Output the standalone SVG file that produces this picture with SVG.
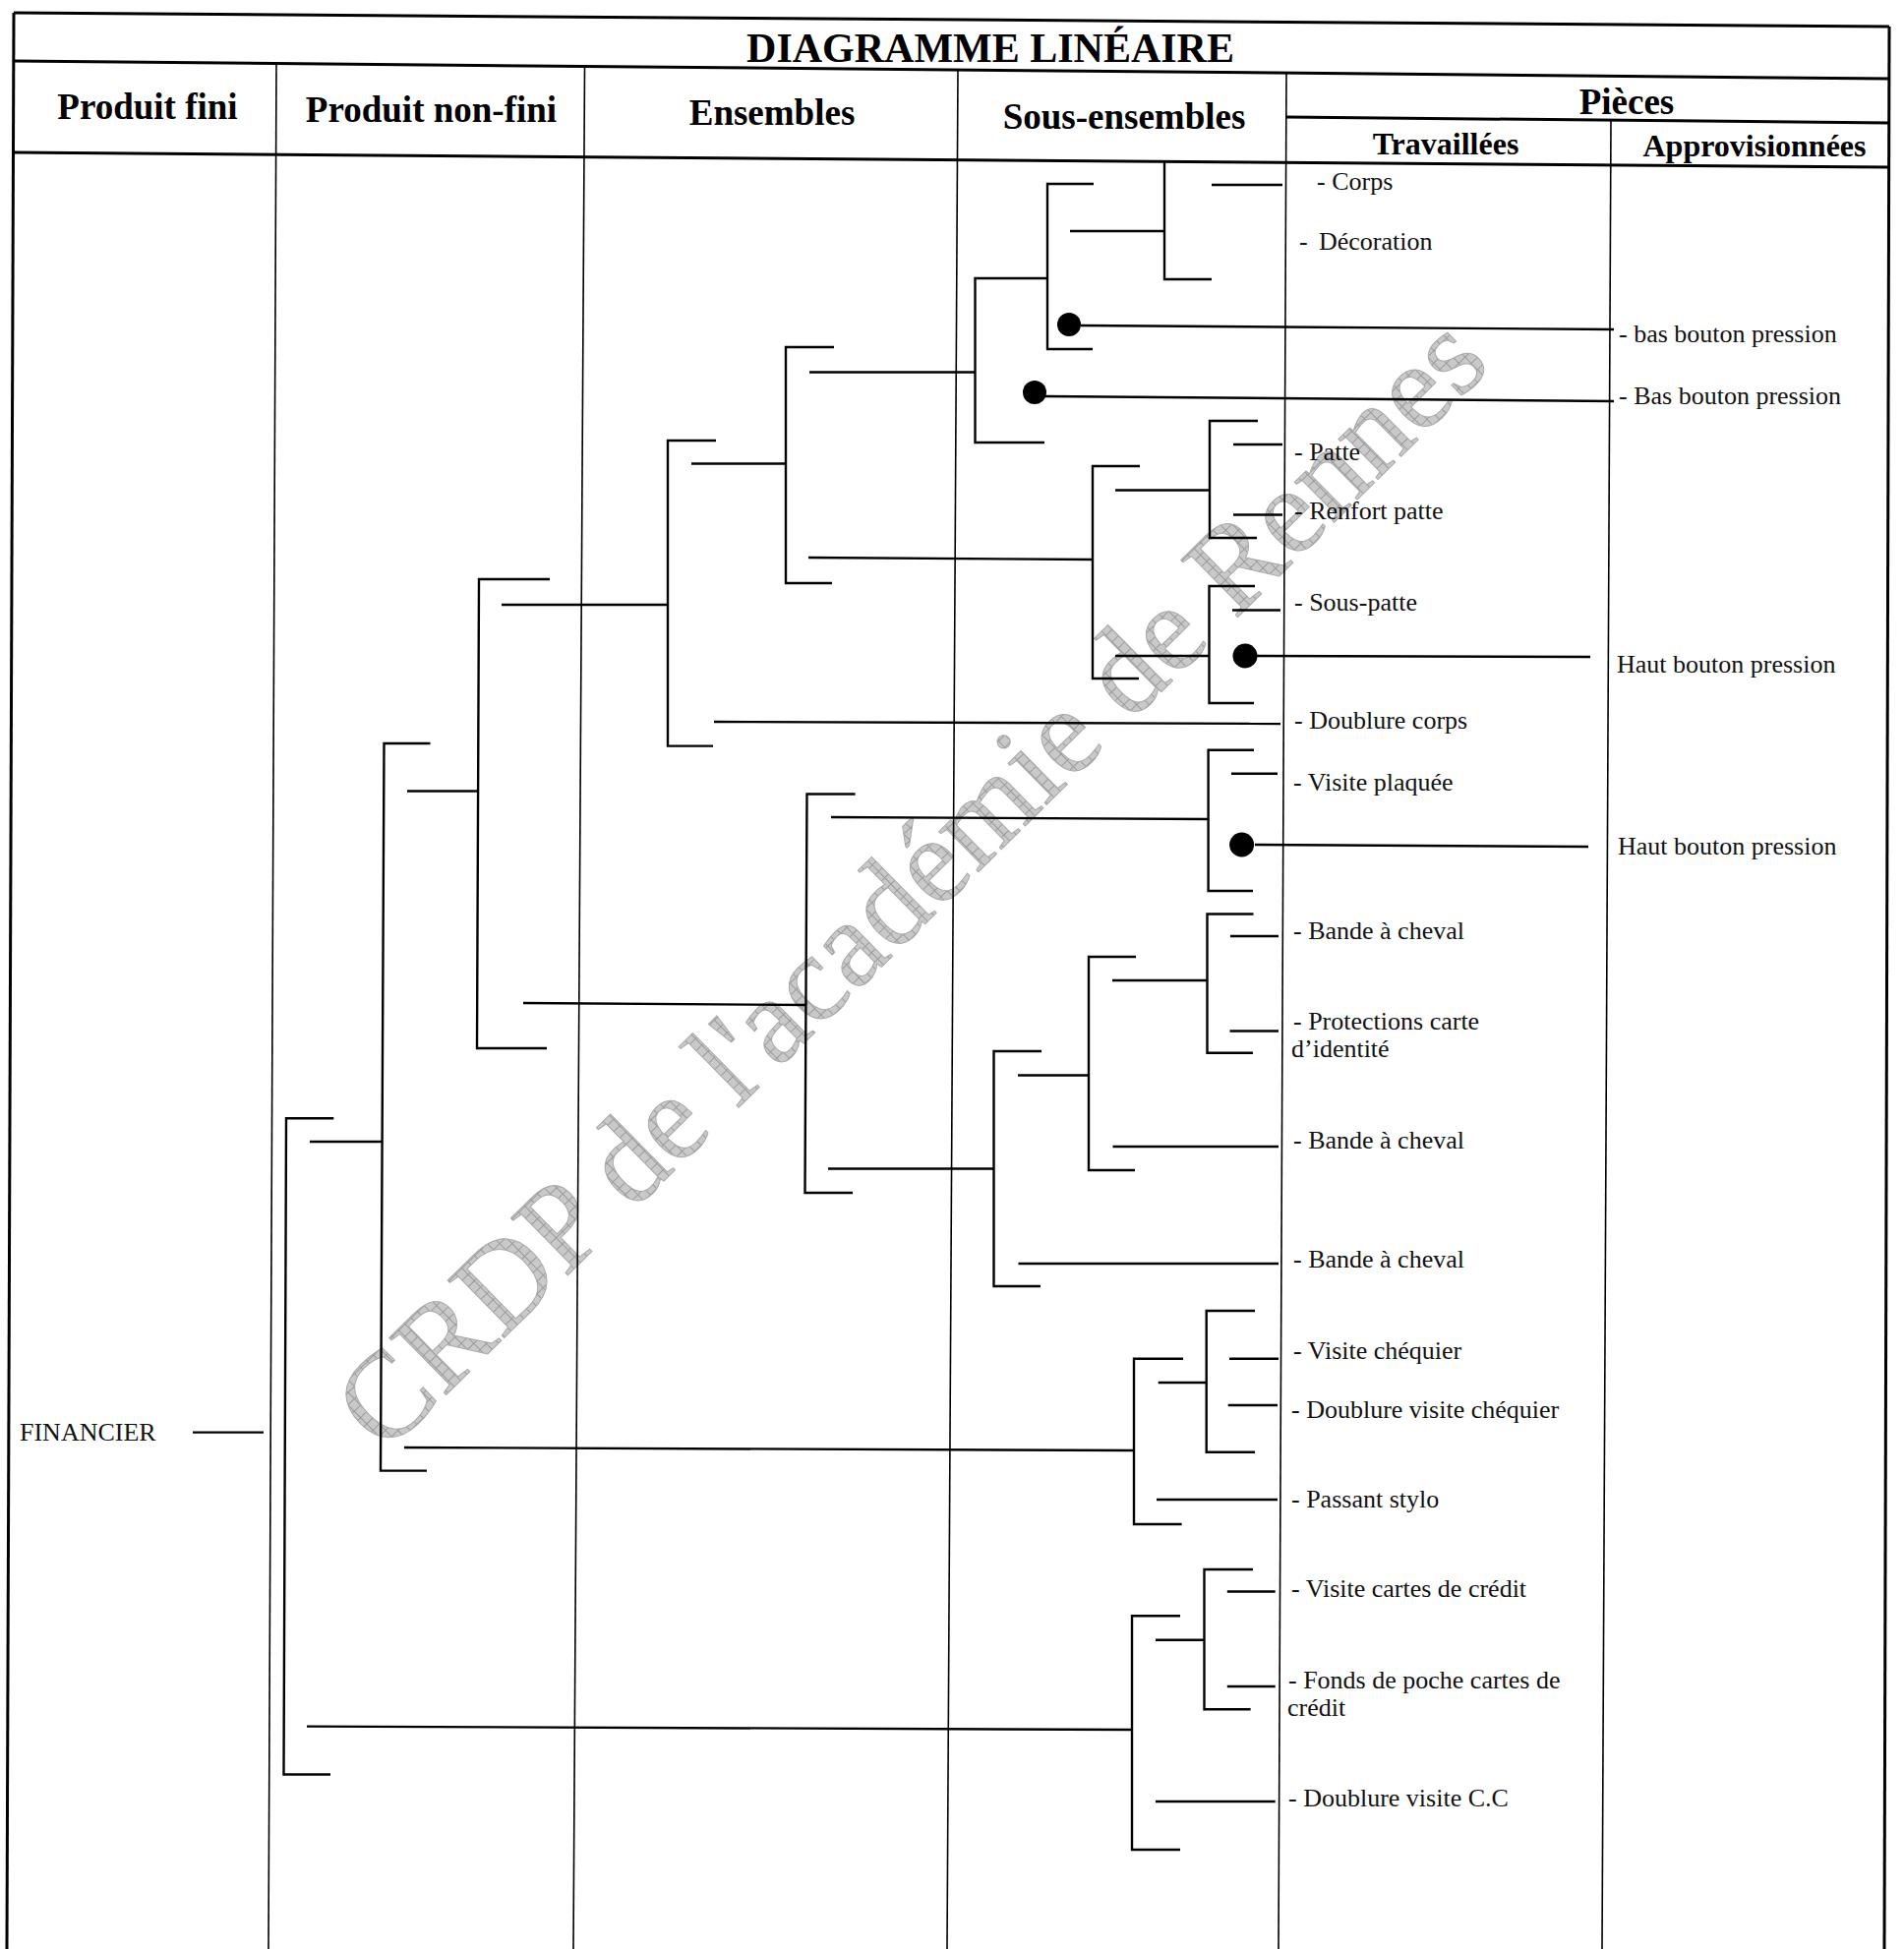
<svg xmlns="http://www.w3.org/2000/svg" width="1936" height="1982" viewBox="0 0 1936 1982">
<style>
  .bg{fill:#ffffff}
  .frame{stroke:#000;stroke-width:3;fill:none}
  .col{stroke:#000;stroke-width:1.6;fill:none}
  .br{stroke:#000;stroke-width:2.4;fill:none}
  .ln{stroke:#000;stroke-width:2.4;fill:none}
  .dot{fill:#000}
  .ttl{font-family:"Liberation Serif","Times New Roman",serif;font-weight:bold;font-size:42px;fill:#000;text-anchor:middle}
  .hd{font-family:"Liberation Serif","Times New Roman",serif;font-weight:bold;font-size:37px;fill:#000;text-anchor:middle}
  .sub{font-family:"Liberation Serif","Times New Roman",serif;font-weight:bold;font-size:32px;fill:#000;text-anchor:middle}
  .lbl{font-family:"Liberation Serif","Times New Roman",serif;font-size:26px;fill:#111}
  .wm{font-family:"Liberation Serif","Times New Roman",serif;font-size:125px;fill:url(#hatch);stroke:#aaaaaa;stroke-width:1}
</style>
<defs>
  <pattern id="hatch" width="9" height="9" patternUnits="userSpaceOnUse">
    <rect width="9" height="9" fill="#c9c9c9"/>
    <path d="M0 0.5H9M0.5 0V9" stroke="#9a9a9a" stroke-width="1"/>
  </pattern>
</defs>
<rect class="bg" x="0" y="0" width="1936" height="1982"/>

<g id="watermark">
  <text class="wm" transform="translate(391,1480) rotate(-44.5)">CRDP de l'académie de Rennes</text>
</g>

<g id="table">
  <line class="frame" x1="14" y1="13" x2="1921" y2="27"/>
  <line class="frame" x1="14" y1="13" x2="7" y2="1982"/>
  <line class="frame" x1="1921" y1="27" x2="1916" y2="1982"/>
  <line class="frame" x1="14" y1="62" x2="1921" y2="80"/>
  <line class="frame" x1="14" y1="155" x2="1921" y2="170"/>
  <line class="frame" x1="1308" y1="119" x2="1921" y2="125"/>
  <line class="col" x1="281" y1="64" x2="273" y2="1982"/>
  <line class="col" x1="594.5" y1="67" x2="583" y2="1982"/>
  <line class="col" x1="974" y1="71" x2="963" y2="1982"/>
  <line class="col" x1="1308" y1="74" x2="1300" y2="1982"/>
  <line class="col" x1="1638" y1="122" x2="1629" y2="1982"/>
  <text class="ttl" x="1007" y="63">DIAGRAMME LINÉAIRE</text>
  <text class="hd" x="150" y="121">Produit fini</text>
  <text class="hd" x="438.5" y="123.5">Produit non-fini</text>
  <text class="hd" x="785" y="127">Ensembles</text>
  <text class="hd" x="1143" y="131">Sous-ensembles</text>
  <text class="hd" x="1654" y="116">Pièces</text>
  <text class="sub" x="1470" y="157">Travaillées</text>
  <text class="sub" x="1784" y="159">Approvisionnées</text>
</g>

<g id="connectors">
  <line class="ln" x1="1232" y1="188" x2="1304" y2="188"/>
  <line class="ln" x1="1088" y1="235" x2="1184" y2="235"/>
  <circle class="dot" cx="1087" cy="330" r="12"/>
  <line class="ln" x1="1099" y1="331" x2="1641" y2="335"/>
  <circle class="dot" cx="1052" cy="399" r="12"/>
  <line class="ln" x1="1063" y1="403" x2="1641" y2="408"/>
  <line class="ln" x1="823" y1="378.5" x2="991.5" y2="378.5"/>
  <line class="ln" x1="703" y1="471.5" x2="799" y2="471.5"/>
  <line class="ln" x1="822" y1="567" x2="1111" y2="569"/>
  <line class="ln" x1="1134" y1="498.5" x2="1230" y2="498.5"/>
  <line class="ln" x1="1254" y1="452" x2="1304" y2="452"/>
  <line class="ln" x1="1254" y1="523.5" x2="1304" y2="523.5"/>
  <line class="ln" x1="1253" y1="620.5" x2="1302" y2="620.5"/>
  <line class="ln" x1="1134" y1="667" x2="1229.5" y2="667"/>
  <circle class="dot" cx="1266" cy="667" r="12.5"/>
  <line class="ln" x1="1277" y1="667" x2="1617" y2="668"/>
  <line class="ln" x1="726" y1="734" x2="1302" y2="736"/>
  <line class="ln" x1="510" y1="615" x2="679" y2="615"/>
  <line class="ln" x1="1252" y1="786.7" x2="1299" y2="786.7"/>
  <circle class="dot" cx="1262.6" cy="859" r="12.5"/>
  <line class="ln" x1="1276" y1="859" x2="1615" y2="861"/>
  <line class="ln" x1="845" y1="831" x2="1228.6" y2="833"/>
  <line class="ln" x1="1251" y1="952" x2="1300" y2="952"/>
  <line class="ln" x1="1250.5" y1="1048.5" x2="1300" y2="1048.5"/>
  <line class="ln" x1="1131" y1="997" x2="1227.5" y2="997"/>
  <line class="ln" x1="1131.5" y1="1166" x2="1300" y2="1166"/>
  <line class="ln" x1="1035" y1="1093.5" x2="1107" y2="1093.5"/>
  <line class="ln" x1="1035.5" y1="1285" x2="1300" y2="1285"/>
  <line class="ln" x1="842" y1="1188.5" x2="1010.5" y2="1188.5"/>
  <line class="ln" x1="532" y1="1020" x2="820" y2="1022"/>
  <line class="ln" x1="414" y1="804.5" x2="486" y2="804.5"/>
  <line class="ln" x1="315" y1="1161" x2="389" y2="1161"/>
  <line class="ln" x1="1250" y1="1381.7" x2="1300" y2="1381.7"/>
  <line class="ln" x1="1248.7" y1="1429" x2="1299" y2="1429"/>
  <line class="ln" x1="1177.7" y1="1406" x2="1226.7" y2="1406"/>
  <line class="ln" x1="1176" y1="1525" x2="1299" y2="1525"/>
  <line class="ln" x1="411" y1="1472" x2="1153" y2="1475"/>
  <line class="ln" x1="1247.8" y1="1618.5" x2="1296.7" y2="1618.5"/>
  <line class="ln" x1="1247.8" y1="1715" x2="1296.7" y2="1715"/>
  <line class="ln" x1="1175" y1="1667.7" x2="1224.5" y2="1667.7"/>
  <line class="ln" x1="1175" y1="1832" x2="1296.7" y2="1832"/>
  <line class="ln" x1="312" y1="1755.6" x2="1151" y2="1759"/>
  <line class="ln" x1="196" y1="1456.6" x2="268" y2="1456.6"/>
</g>

<g id="bracket-A"><path class="br" d="M1184 164 V284 H1232"/></g>
<g id="bracket-B"><path class="br" d="M1112 187 H1065 V355 H1111"/></g>
<g id="bracket-C"><path class="br" d="M1065 283 H991.5 V450 H1062"/></g>
<g id="bracket-D"><path class="br" d="M848 353 H799 V593 H846"/></g>
<g id="bracket-E"><path class="br" d="M728 448 H679 V758.6 H725"/></g>
<g id="bracket-F"><path class="br" d="M559 589 H487 L485 1066 H556"/></g>
<g id="bracket-G"><path class="br" d="M1159 474 H1111 V690 H1158"/></g>
<g id="bracket-H"><path class="br" d="M1279 428 H1230 V547 H1278"/></g>
<g id="bracket-I"><path class="br" d="M1276 596 H1229.5 V715 H1275"/></g>
<g id="bracket-J"><path class="br" d="M1275 762.7 H1228.6 V906 H1274"/></g>
<g id="bracket-K"><path class="br" d="M1274.5 929.5 H1227.5 V1070.7 H1274"/></g>
<g id="bracket-L"><path class="br" d="M1155 973 H1107 V1190 H1154"/></g>
<g id="bracket-M"><path class="br" d="M1059 1069 H1010.5 V1308 H1058"/></g>
<g id="bracket-N"><path class="br" d="M869.6 807.5 H820.5 L818.5 1213 H867"/></g>
<g id="bracket-O"><path class="br" d="M1276 1333 H1226.7 V1476.7 H1276"/></g>
<g id="bracket-P"><path class="br" d="M1203 1381.7 H1153 V1550 H1201.6"/></g>
<g id="bracket-Q"><path class="br" d="M1274 1596 H1224.5 V1738.3 H1271.6"/></g>
<g id="bracket-R"><path class="br" d="M1200 1643.3 H1151 V1881 H1200"/></g>
<g id="bracket-S"><path class="br" d="M437.5 756 H390.5 L387 1495.6 H434"/></g>
<g id="bracket-T"><path class="br" d="M339.3 1137.3 H291 L288.5 1804.5 H336"/></g>

<g id="node-financier"><text class="lbl" x="20" y="1465">FINANCIER</text></g>
<g id="node-corps"><text class="lbl" x="1339" y="193">- Corps</text></g>
<g id="node-decoration"><text class="lbl" x="1321" y="254">-<tspan x="1341">Décoration</tspan></text></g>
<g id="node-bas-bouton-1"><text class="lbl" x="1646" y="348">- bas bouton pression</text></g>
<g id="node-bas-bouton-2"><text class="lbl" x="1646" y="411">- Bas bouton pression</text></g>
<g id="node-patte"><text class="lbl" x="1316" y="468">- Patte</text></g>
<g id="node-renfort-patte"><text class="lbl" x="1316" y="528">- Renfort patte</text></g>
<g id="node-sous-patte"><text class="lbl" x="1316" y="621">- Sous-patte</text></g>
<g id="node-haut-bouton-1"><text class="lbl" x="1644" y="684">Haut bouton pression</text></g>
<g id="node-doublure-corps"><text class="lbl" x="1316" y="741">- Doublure corps</text></g>
<g id="node-visite-plaquee"><text class="lbl" x="1315" y="804">- Visite plaquée</text></g>
<g id="node-haut-bouton-2"><text class="lbl" x="1645" y="869">Haut bouton pression</text></g>
<g id="node-bande-1"><text class="lbl" x="1315" y="955">- Bande à cheval</text></g>
<g id="node-protections"><text class="lbl" x="1315" y="1047">- Protections carte<tspan x="1313" y="1075">d’identité</tspan></text></g>
<g id="node-bande-2"><text class="lbl" x="1315" y="1168">- Bande à cheval</text></g>
<g id="node-bande-3"><text class="lbl" x="1315" y="1289">- Bande à cheval</text></g>
<g id="node-visite-chequier"><text class="lbl" x="1315" y="1382">- Visite chéquier</text></g>
<g id="node-doublure-visite-chequier"><text class="lbl" x="1313" y="1442">- Doublure visite chéquier</text></g>
<g id="node-passant-stylo"><text class="lbl" x="1313" y="1533">- Passant stylo</text></g>
<g id="node-visite-cartes"><text class="lbl" x="1313" y="1624">- Visite cartes de crédit</text></g>
<g id="node-fonds-poche"><text class="lbl" x="1310" y="1717">- Fonds de poche cartes de<tspan x="1309" y="1745">crédit</tspan></text></g>
<g id="node-doublure-cc"><text class="lbl" x="1310" y="1837">- Doublure visite C.C</text></g>
</svg>
